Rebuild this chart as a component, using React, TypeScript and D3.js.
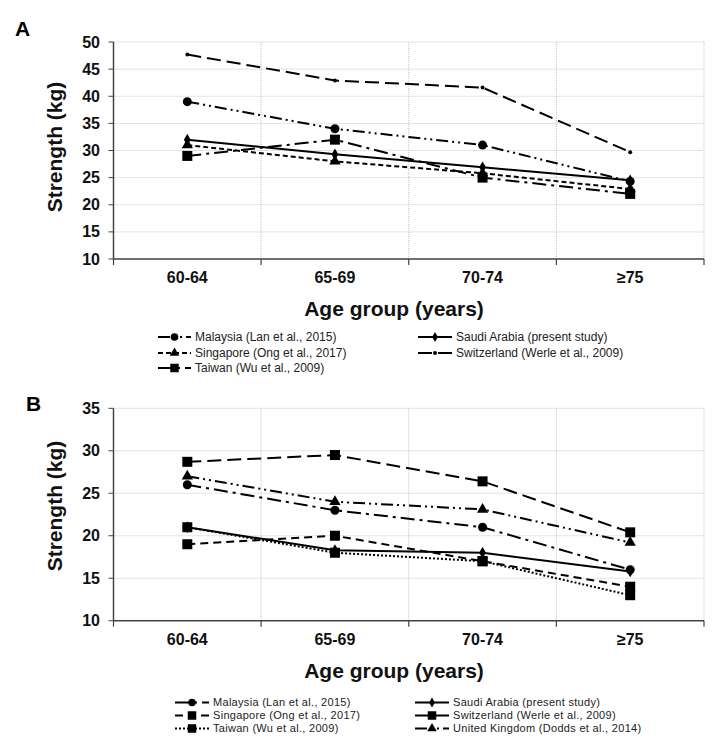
import React from "react";
import * as d3 from "d3";

const categories = ["60-64", "65-69", "70-74", "≥75"];

// Panel A values (kg)
const aMalaysia = [39, 34, 31, 24.3];
const aSaudi = [32, 29.3, 26.9, 24.5];
const aSingapore = [31, 28, 25.8, 22.9];
const aSwitzerland = [47.7, 42.9, 41.6, 29.7];
const aTaiwan = [29, 32, 25, 22];

// Panel B values (kg)
const bMalaysia = [26, 23, 21, 16];
const bSingapore = [19, 20, 17, 14];
const bTaiwan = [21, 18, 17, 13];
const bSaudi = [21, 18.3, 18, 15.8];
const bSwitzerland = [28.7, 29.5, 26.4, 20.4];
const bUK = [27, 24, 23.1, 19.2];

const aTicks = [10, 15, 20, 25, 30, 35, 40, 45, 50];
const bTicks = [10, 15, 20, 25, 30, 35];

type Marker = "circle" | "diamond" | "triangle" | "square" | "dot";
interface Series { name: string; values: number[]; dash: string; marker: Marker; }

const seriesA: Series[] = [
  { name: "Malaysia (Lan et al., 2015)", values: aMalaysia, dash: "12,4,2,4,2,4", marker: "circle" },
  { name: "Saudi Arabia (present study)", values: aSaudi, dash: "", marker: "diamond" },
  { name: "Singapore (Ong et al., 2017)", values: aSingapore, dash: "5,3", marker: "triangle" },
  { name: "Switzerland (Werle et al., 2009)", values: aSwitzerland, dash: "14,6", marker: "dot" },
  { name: "Taiwan (Wu et al., 2009)", values: aTaiwan, dash: "14,5,3,5", marker: "square" },
];

const seriesB: Series[] = [
  { name: "Malaysia (Lan et al., 2015)", values: bMalaysia, dash: "14,5,3,5", marker: "circle" },
  { name: "Saudi Arabia (present study)", values: bSaudi, dash: "", marker: "diamond" },
  { name: "Singapore (Ong et al., 2017)", values: bSingapore, dash: "8,5", marker: "square" },
  { name: "Switzerland (Werle et al., 2009)", values: bSwitzerland, dash: "14,6", marker: "square" },
  { name: "Taiwan (Wu et al., 2009)", values: bTaiwan, dash: "2,2", marker: "square" },
  { name: "United Kingdom (Dodds et al., 2014)", values: bUK, dash: "12,4,2,4,2,4", marker: "triangle" },
];

const FONT = "'Liberation Sans', Arial, sans-serif";

function MarkerShape({ type, x, y, scale = 1 }: { type: Marker; x: number; y: number; scale?: number }) {
  if (type === "circle") return <circle cx={x} cy={y} r={4.5 * scale} fill="#000" />;
  if (type === "dot") return <circle cx={x} cy={y} r={2} fill="#000" />;
  if (type === "square") { const h = 5 * scale; return <rect x={x - h} y={y - h} width={2 * h} height={2 * h} fill="#000" />; }
  if (type === "diamond") {
    const p = d3.symbol().type(d3.symbolDiamond).size(40 * scale * scale)();
    return <path d={p || ""} transform={`translate(${x},${y})`} fill="#000" />;
  }
  const p = d3.symbol().type(d3.symbolTriangle).size(55 * scale * scale)();
  return <path d={p || ""} transform={`translate(${x},${y})`} fill="#000" />;
}

interface PanelProps {
  label: string; labelX: number; labelY: number;
  top: number; bottom: number; domain: [number, number]; ticks: number[];
  series: Series[];
  legendRows: number[]; legendLeft: [number, number]; legendRight: [number, number];
  legendFont: number; legendSpacing: number;
  yTitleY: number;
}

const LEFT = 113.5;
const RIGHT = 704;

function Panel(props: PanelProps) {
  const { label, labelX, labelY, top, bottom, domain, ticks, series } = props;
  const x = d3.scaleBand<string>().domain(categories).range([LEFT, RIGHT]);
  const y = d3.scaleLinear().domain(domain).range([bottom, top]);
  const line = d3.line<number>().x((_, i) => (x(categories[i]) || 0) + x.bandwidth() / 2).y(v => y(v));
  const boundaries = [LEFT, ...categories.map(c => (x(c) || 0) + x.bandwidth())];
  return (
    <g>
      <text x={labelX} y={labelY} fontFamily={FONT} fontWeight="bold" fontSize={21}>{label}</text>
      {ticks.map(t => (
        <line key={"h" + t} x1={LEFT} x2={RIGHT} y1={y(t)} y2={y(t)} stroke="#c8c8c8" strokeWidth={1} strokeDasharray="1,1" />
      ))}
      {boundaries.slice(1).map((b, i) => (
        <line key={"v" + i} x1={b} x2={b} y1={top} y2={bottom} stroke="#c0c0c0" strokeWidth={1} strokeDasharray="1,1" />
      ))}
      <line x1={LEFT} x2={LEFT} y1={top} y2={bottom} stroke="#444" strokeWidth={1.5} />
      <line x1={LEFT} x2={RIGHT} y1={bottom} y2={bottom} stroke="#444" strokeWidth={1.5} />
      {ticks.map(t => (
        <g key={"yt" + t}>
          <line x1={LEFT - 5} x2={LEFT} y1={y(t)} y2={y(t)} stroke="#444" strokeWidth={1} />
          <text x={100} y={y(t)} dy="0.35em" textAnchor="end" fontFamily={FONT} fontWeight="bold" fontSize={16} fill="#111">{t}</text>
        </g>
      ))}
      {boundaries.map((b, i) => (
        <line key={"xt" + i} x1={b} x2={b} y1={bottom} y2={bottom + 6} stroke="#444" strokeWidth={1.2} />
      ))}
      {categories.map(c => (
        <text key={c} x={(x(c) || 0) + x.bandwidth() / 2} y={bottom + 24} textAnchor="middle" fontFamily={FONT} fontWeight="bold" fontSize={16} fill="#111">{c}</text>
      ))}
      <text x={394} y={bottom + 57} textAnchor="middle" fontFamily={FONT} fontWeight="bold" fontSize={21} fill="#111">Age group (years)</text>
      <text transform={`translate(62,${props.yTitleY}) rotate(-90)`} textAnchor="middle" fontFamily={FONT} fontWeight="bold" fontSize={21} fill="#111">Strength (kg)</text>
      {series.map(s => (
        <g key={s.name}>
          <path d={line(s.values) || ""} fill="none" stroke="#000" strokeWidth={2} strokeDasharray={s.dash || undefined} />
          {s.values.map((v, i) => (
            <MarkerShape key={i} type={s.marker} x={(x(categories[i]) || 0) + x.bandwidth() / 2} y={y(v)} />
          ))}
        </g>
      ))}
      {series.map((s, i) => {
        const row = Math.floor(i / 2);
        const col = i % 2;
        const [lx, tx] = col === 0 ? props.legendLeft : props.legendRight;
        const ly = props.legendRows[row];
        return (
          <g key={"lg" + i}>
            <line x1={lx} x2={tx - 4} y1={ly} y2={ly} stroke="#000" strokeWidth={2} strokeDasharray={s.dash || undefined} />
            <MarkerShape type={s.marker} x={(lx + tx - 4) / 2} y={ly} scale={0.85} />
            <text x={tx} y={ly} dy="0.35em" fontFamily={FONT} fontSize={props.legendFont} letterSpacing={props.legendSpacing} fill="#222">{s.name}</text>
          </g>
        );
      })}
    </g>
  );
}

export default function App() {
  return (
    <svg width={721} height={751} style={{ position: "absolute", left: 0, top: 0, background: "#fff" }}>
      <rect width={721} height={751} fill="#fff" />
      <Panel label="A" labelX={15} labelY={36} top={42} bottom={259} domain={[10, 50]} ticks={aTicks}
        series={seriesA} legendRows={[337, 353, 368]} legendLeft={[158, 195]} legendRight={[418, 456]}
        legendFont={12} legendSpacing={0} yTitleY={147} />
      <Panel label="B" labelX={26} labelY={411} top={408.3} bottom={620.7} domain={[10, 35]} ticks={bTicks}
        series={seriesB} legendRows={[702.5, 715.5, 728.5]} legendLeft={[175, 213]} legendRight={[415, 453]}
        legendFont={11} legendSpacing={0.3} yTitleY={506} />
    </svg>
  );
}
